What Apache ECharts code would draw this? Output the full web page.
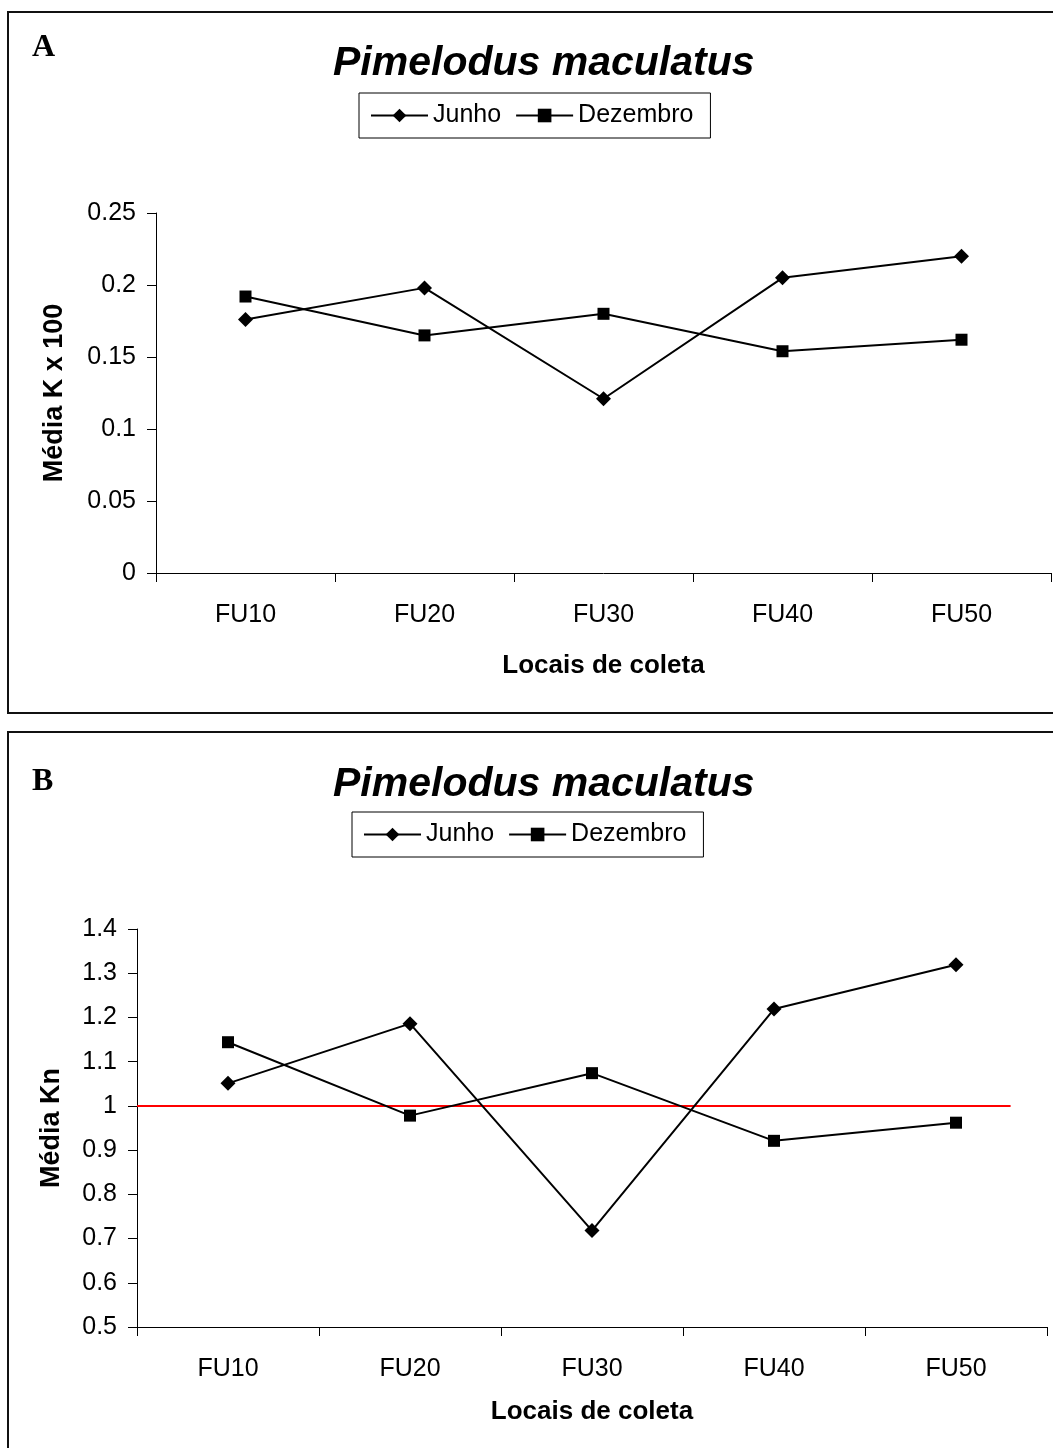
<!DOCTYPE html>
<html>
<head>
<meta charset="utf-8">
<script src="https://cdn.jsdelivr.net/npm/echarts@6/dist/echarts.min.js"></script>
<style>
html,body{margin:0;padding:0;background:#fff;}
#chart{width:1053px;height:1448px;}
</style>
</head>
<body>
<div id="chart"></div>
<script>
// ---- data ----
const categories = ['FU10', 'FU20', 'FU30', 'FU40', 'FU50'];
const kJunho = [0.176, 0.198, 0.121, 0.205, 0.220];
const kDezembro = [0.192, 0.165, 0.180, 0.154, 0.162];
const knJunho = [1.051, 1.186, 0.718, 1.219, 1.319];
const knDezembro = [1.144, 0.978, 1.074, 0.921, 0.962];
const refLineB = [[-0.5, 1], [4.3, 1]];
const seriesNames = ['Junho', 'Dezembro'];
const panelLabels = ['A', 'B'];
const titleText = 'Pimelodus maculatus';
const xName = 'Locais de coleta';
const yNames = ['Média K x 100', 'Média Kn'];

const FONT = 'Arial, "Liberation Sans", sans-serif';
const chart = echarts.init(document.getElementById('chart'), null, {renderer: 'canvas'});

function xAxisFor(gridIndex, gap) {
  return {
    type: 'category', gridIndex: gridIndex, data: categories, boundaryGap: true,
    axisLine: {show: true, onZero: false, lineStyle: {color: '#000', width: 1}},
    axisTick: {show: true, length: 9, alignWithLabel: false, lineStyle: {color: '#000'}},
    axisLabel: {color: '#000', fontSize: 25, fontFamily: FONT, margin: 30},
    splitLine: {show: false},
    name: xName, nameLocation: 'middle', nameGap: gap,
    nameTextStyle: {color: '#000', fontSize: 26, fontWeight: 'bold', fontFamily: FONT}
  };
}
function yAxisFor(gridIndex, min, max, interval, name, gap) {
  return {
    type: 'value', gridIndex: gridIndex, min: min, max: max, interval: interval,
    axisLine: {show: true, onZero: false, lineStyle: {color: '#000', width: 1}},
    axisTick: {show: true, length: 9, lineStyle: {color: '#000'}},
    axisLabel: {color: '#000', fontSize: 25, fontFamily: FONT, margin: 20},
    splitLine: {show: false},
    name: name, nameLocation: 'middle', nameRotate: 90, nameGap: gap,
    nameTextStyle: {color: '#000', fontSize: 27, fontWeight: 'bold', fontFamily: FONT}
  };
}
function lineSeries(name, data, xi, yi, symbol, size) {
  return {
    name: name, type: 'line', xAxisIndex: xi, yAxisIndex: yi, data: data,
    symbol: symbol, symbolSize: size, showSymbol: true,
    lineStyle: {color: '#000', width: 2},
    itemStyle: {color: '#000'},
    emphasis: {disabled: true}
  };
}
function legendFor(left, top) {
  return {
    data: seriesNames, left: left, top: top, orient: 'horizontal',
    itemWidth: 57, itemHeight: 17, itemGap: 14,
    padding: [10, 17, 10, 11],
    borderColor: '#000', borderWidth: 1,
    textStyle: {color: '#000', fontSize: 25, fontFamily: FONT},
    selectedMode: false
  };
}

const option = {
  animation: false,
  backgroundColor: '#fff',
  title: [
    {text: titleText, left: 328, top: 38,
     textStyle: {color: '#000', fontSize: 41, fontStyle: 'italic', fontWeight: 'bold', fontFamily: FONT}},
    {text: titleText, left: 328, top: 759,
     textStyle: {color: '#000', fontSize: 41, fontStyle: 'italic', fontWeight: 'bold', fontFamily: FONT}},
    {text: panelLabels[0], left: 27, top: 27,
     textStyle: {color: '#000', fontSize: 32, fontWeight: 'bold', fontFamily: '"Liberation Serif", "Times New Roman", serif'}},
    {text: panelLabels[1], left: 27, top: 761,
     textStyle: {color: '#000', fontSize: 32, fontWeight: 'bold', fontFamily: '"Liberation Serif", "Times New Roman", serif'}}
  ],
  legend: [legendFor(359, 93), legendFor(352, 812)],
  grid: [
    {left: 156, top: 213, width: 895, height: 360, containLabel: false},
    {left: 137, top: 929, width: 910, height: 398, containLabel: false}
  ],
  xAxis: [
    xAxisFor(0, 80),
    xAxisFor(1, 72),
    {type: 'value', gridIndex: 1, min: -0.5, max: 4.5, show: false}
  ],
  yAxis: [
    yAxisFor(0, 0, 0.25, 0.05, yNames[0], 88),
    yAxisFor(1, 0.5, 1.4, 0.1, yNames[1], 72)
  ],
  graphic: [
    {type: 'rect', shape: {x: 8, y: 12, width: 1100, height: 701},
     style: {fill: 'none', stroke: '#111', lineWidth: 2}, silent: true, z: -1},
    {type: 'rect', shape: {x: 8, y: 732, width: 1100, height: 800},
     style: {fill: 'none', stroke: '#111', lineWidth: 2}, silent: true, z: -1}
  ],
  series: [
    {name: 'ref', type: 'line', xAxisIndex: 2, yAxisIndex: 1, data: refLineB,
     symbol: 'none', lineStyle: {color: '#ff0000', width: 2}, z: 1, emphasis: {disabled: true}},
    lineSeries(seriesNames[0], kJunho, 0, 0, 'diamond', 15),
    lineSeries(seriesNames[1], kDezembro, 0, 0, 'rect', 12),
    lineSeries(seriesNames[0], knJunho, 1, 1, 'diamond', 15),
    lineSeries(seriesNames[1], knDezembro, 1, 1, 'rect', 12)
  ]
};
chart.setOption(option);
</script>
</body>
</html>
